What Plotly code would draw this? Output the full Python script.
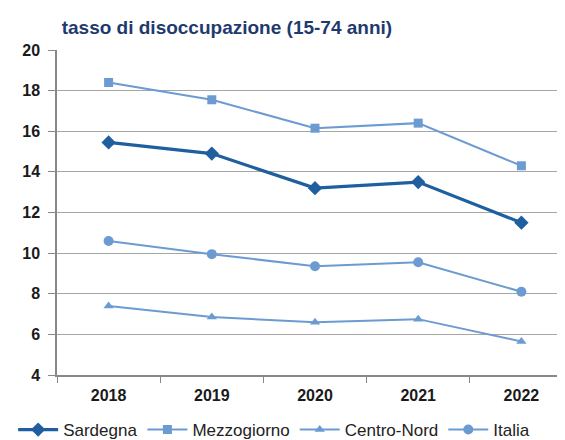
import plotly.graph_objects as go

anni = ["2018", "2019", "2020", "2021", "2022"]
sardegna = [15.45, 14.9, 13.2, 13.5, 11.5]
mezzogiorno = [18.4, 17.55, 16.15, 16.4, 14.3]
centro_nord = [7.4, 6.85, 6.6, 6.75, 5.65]
italia = [10.6, 9.95, 9.35, 9.55, 8.1]

dark = "#1F5F9F"
light = "#6C9BD2"

fig = go.Figure()
series = [
    ("Sardegna", sardegna, dark, 3.2, "diamond", 11),
    ("Mezzogiorno", mezzogiorno, light, 2, "square", 9),
    ("Centro-Nord", centro_nord, light, 2, "triangle-up", 9),
    ("Italia", italia, light, 2, "circle", 10),
]
for name, vals, col, w, sym, sz in series:
    fig.add_trace(go.Scatter(
        x=anni, y=vals, name=name, mode="lines+markers",
        line=dict(color=col, width=w),
        marker=dict(symbol=sym, size=sz, color=col),
    ))

tick_font = dict(size=16, color="#1a1a1a", weight="bold")

fig.update_layout(
    width=565, height=440,
    margin=dict(l=49, r=0, t=42, b=65),
    paper_bgcolor="white", plot_bgcolor="white",
    font=dict(family="Liberation Sans, Arial", size=13, color="#222222"),
    title=dict(text="<b>tasso di disoccupazione (15-74 anni)</b>",
               x=0.095, xanchor="left", y=0.955, yanchor="middle",
               font=dict(size=19, color="#1F3A6E")),
    showlegend=True,
    legend=dict(orientation="h", x=-0.085, xanchor="left", y=-0.17, yanchor="middle",
                font=dict(size=17, color="#222222"), itemwidth=40,
                tracegroupgap=0),
)
fig.update_xaxes(
    type="category", range=[-0.5, 4.5],
    showline=True, linecolor="#888888", linewidth=1.5,
    ticks="outside", tickson="boundaries", ticklen=6, tickcolor="#888888",
    showgrid=False, tickfont=tick_font, ticklabelstandoff=5,
)
fig.update_yaxes(
    range=[4, 20], dtick=2,
    showline=True, linecolor="#888888", linewidth=1.5,
    ticks="outside", ticklen=7, tickcolor="#888888",
    showgrid=True, gridcolor="#A6A6A6", gridwidth=1.2,
    zeroline=False, tickfont=tick_font, ticklabelstandoff=5,
)

fig.write_html("out.html")
